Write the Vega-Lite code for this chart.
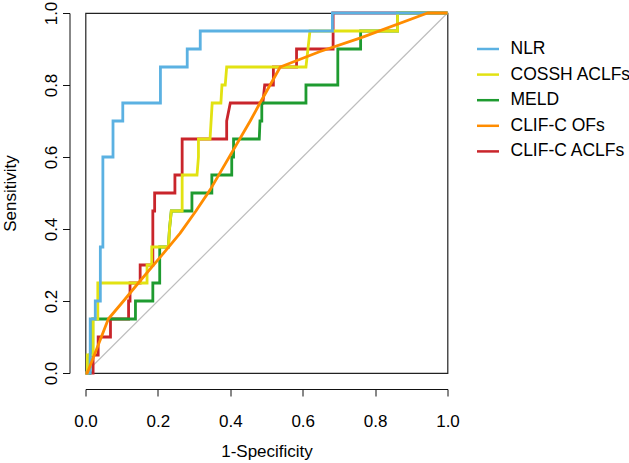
{
  "$schema": "https://vega.github.io/schema/vega-lite/v6.json",
  "width": 362,
  "height": 360,
  "autosize": {"type": "none"},
  "padding": {"left": 85.5, "top": 13, "right": 181.5, "bottom": 90},
  "background": "white",
  "config": {
    "view": {"stroke": "#222", "strokeWidth": 1.2},
    "font": "Liberation Sans",
    "axis": {
      "grid": false, "domainColor": "#111", "tickColor": "#111", "domainWidth": 1, "tickWidth": 1,
      "tickSize": 7, "labelFontSize": 17, "titleFontSize": 17, "labelColor": "#000", "titleColor": "#000",
      "titleFontWeight": "normal", "labelFont": "Liberation Sans", "titleFont": "Liberation Sans",
      "labelFlush": false, "labelOverlap": false, "offset": 16
    },
    "legend": {
      "orient": "none", "legendX": 390, "legendY": 23.5, "symbolType": "stroke", "symbolSize": 484,
      "symbolStrokeWidth": 2.5, "labelFontSize": 17.5, "labelFont": "Liberation Sans", "labelColor": "#000",
      "rowPadding": 4.6, "labelOffset": 10, "padding": 0, "title": null
    }
  },
  "datasets": {
    "roc": [
      {"m":"NLR","i":0,"x":0,"y":0},{"m":"NLR","i":1,"x":0.013,"y":0},{"m":"NLR","i":2,"x":0.013,"y":0.15},
      {"m":"NLR","i":3,"x":0.027,"y":0.15},{"m":"NLR","i":4,"x":0.027,"y":0.2},{"m":"NLR","i":5,"x":0.041,"y":0.2},
      {"m":"NLR","i":6,"x":0.041,"y":0.35},{"m":"NLR","i":7,"x":0.048,"y":0.35},{"m":"NLR","i":8,"x":0.048,"y":0.6},
      {"m":"NLR","i":9,"x":0.076,"y":0.6},{"m":"NLR","i":10,"x":0.076,"y":0.7},{"m":"NLR","i":11,"x":0.103,"y":0.7},
      {"m":"NLR","i":12,"x":0.103,"y":0.75},{"m":"NLR","i":13,"x":0.207,"y":0.75},{"m":"NLR","i":14,"x":0.207,"y":0.85},
      {"m":"NLR","i":15,"x":0.281,"y":0.85},{"m":"NLR","i":16,"x":0.281,"y":0.9},{"m":"NLR","i":17,"x":0.317,"y":0.9},
      {"m":"NLR","i":18,"x":0.317,"y":0.95},{"m":"NLR","i":19,"x":0.682,"y":0.95},{"m":"NLR","i":20,"x":0.682,"y":1},
      {"m":"NLR","i":21,"x":1,"y":1},

      {"m":"COSSH ACLFs","i":0,"x":0,"y":0},{"m":"COSSH ACLFs","i":1,"x":0.005,"y":0},{"m":"COSSH ACLFs","i":2,"x":0.005,"y":0.05},
      {"m":"COSSH ACLFs","i":3,"x":0.021,"y":0.05},{"m":"COSSH ACLFs","i":4,"x":0.021,"y":0.15},{"m":"COSSH ACLFs","i":5,"x":0.034,"y":0.15},
      {"m":"COSSH ACLFs","i":6,"x":0.034,"y":0.25},{"m":"COSSH ACLFs","i":7,"x":0.17,"y":0.25},{"m":"COSSH ACLFs","i":8,"x":0.17,"y":0.3},
      {"m":"COSSH ACLFs","i":9,"x":0.183,"y":0.3},{"m":"COSSH ACLFs","i":10,"x":0.183,"y":0.35},{"m":"COSSH ACLFs","i":11,"x":0.229,"y":0.35},
      {"m":"COSSH ACLFs","i":12,"x":0.232,"y":0.4},{"m":"COSSH ACLFs","i":13,"x":0.237,"y":0.45},{"m":"COSSH ACLFs","i":14,"x":0.267,"y":0.45},
      {"m":"COSSH ACLFs","i":15,"x":0.267,"y":0.55},{"m":"COSSH ACLFs","i":16,"x":0.308,"y":0.55},{"m":"COSSH ACLFs","i":17,"x":0.312,"y":0.6},
      {"m":"COSSH ACLFs","i":18,"x":0.312,"y":0.65},{"m":"COSSH ACLFs","i":19,"x":0.344,"y":0.65},{"m":"COSSH ACLFs","i":20,"x":0.35,"y":0.75},
      {"m":"COSSH ACLFs","i":21,"x":0.374,"y":0.75},{"m":"COSSH ACLFs","i":22,"x":0.377,"y":0.8},{"m":"COSSH ACLFs","i":23,"x":0.386,"y":0.8},
      {"m":"COSSH ACLFs","i":24,"x":0.39,"y":0.85},{"m":"COSSH ACLFs","i":25,"x":0.609,"y":0.85},{"m":"COSSH ACLFs","i":26,"x":0.62,"y":0.95},
      {"m":"COSSH ACLFs","i":27,"x":0.862,"y":0.95},{"m":"COSSH ACLFs","i":28,"x":0.862,"y":1},{"m":"COSSH ACLFs","i":29,"x":1,"y":1},

      {"m":"MELD","i":0,"x":0,"y":0},{"m":"MELD","i":1,"x":0.012,"y":0},{"m":"MELD","i":2,"x":0.012,"y":0.05},
      {"m":"MELD","i":3,"x":0.02,"y":0.05},{"m":"MELD","i":4,"x":0.02,"y":0.15},{"m":"MELD","i":5,"x":0.138,"y":0.15},
      {"m":"MELD","i":6,"x":0.138,"y":0.2},{"m":"MELD","i":7,"x":0.186,"y":0.2},{"m":"MELD","i":8,"x":0.186,"y":0.25},
      {"m":"MELD","i":9,"x":0.205,"y":0.25},{"m":"MELD","i":10,"x":0.205,"y":0.35},{"m":"MELD","i":11,"x":0.229,"y":0.35},
      {"m":"MELD","i":12,"x":0.232,"y":0.4},{"m":"MELD","i":13,"x":0.237,"y":0.45},{"m":"MELD","i":14,"x":0.294,"y":0.45},
      {"m":"MELD","i":15,"x":0.294,"y":0.5},{"m":"MELD","i":16,"x":0.349,"y":0.5},{"m":"MELD","i":17,"x":0.349,"y":0.55},
      {"m":"MELD","i":18,"x":0.404,"y":0.55},{"m":"MELD","i":19,"x":0.404,"y":0.6},{"m":"MELD","i":20,"x":0.409,"y":0.6},
      {"m":"MELD","i":21,"x":0.409,"y":0.65},{"m":"MELD","i":22,"x":0.48,"y":0.65},{"m":"MELD","i":23,"x":0.482,"y":0.7},
      {"m":"MELD","i":24,"x":0.487,"y":0.7},{"m":"MELD","i":25,"x":0.487,"y":0.75},{"m":"MELD","i":26,"x":0.609,"y":0.75},
      {"m":"MELD","i":27,"x":0.609,"y":0.8},{"m":"MELD","i":28,"x":0.697,"y":0.8},{"m":"MELD","i":29,"x":0.697,"y":0.9},
      {"m":"MELD","i":30,"x":0.76,"y":0.9},{"m":"MELD","i":31,"x":0.76,"y":0.95},{"m":"MELD","i":32,"x":0.862,"y":0.95},
      {"m":"MELD","i":33,"x":0.862,"y":1},{"m":"MELD","i":34,"x":1,"y":1},

      {"m":"CLIF-C ACLFs","i":0,"x":0,"y":0},{"m":"CLIF-C ACLFs","i":1,"x":0.021,"y":0},{"m":"CLIF-C ACLFs","i":2,"x":0.021,"y":0.05},
      {"m":"CLIF-C ACLFs","i":3,"x":0.035,"y":0.05},{"m":"CLIF-C ACLFs","i":4,"x":0.035,"y":0.1},{"m":"CLIF-C ACLFs","i":5,"x":0.069,"y":0.1},
      {"m":"CLIF-C ACLFs","i":6,"x":0.069,"y":0.15},{"m":"CLIF-C ACLFs","i":7,"x":0.119,"y":0.15},{"m":"CLIF-C ACLFs","i":8,"x":0.119,"y":0.2},
      {"m":"CLIF-C ACLFs","i":9,"x":0.123,"y":0.2},{"m":"CLIF-C ACLFs","i":10,"x":0.123,"y":0.25},{"m":"CLIF-C ACLFs","i":11,"x":0.151,"y":0.25},
      {"m":"CLIF-C ACLFs","i":12,"x":0.151,"y":0.3},{"m":"CLIF-C ACLFs","i":13,"x":0.186,"y":0.3},{"m":"CLIF-C ACLFs","i":14,"x":0.186,"y":0.45},
      {"m":"CLIF-C ACLFs","i":15,"x":0.191,"y":0.45},{"m":"CLIF-C ACLFs","i":16,"x":0.191,"y":0.5},{"m":"CLIF-C ACLFs","i":17,"x":0.247,"y":0.5},
      {"m":"CLIF-C ACLFs","i":18,"x":0.247,"y":0.55},{"m":"CLIF-C ACLFs","i":19,"x":0.267,"y":0.55},{"m":"CLIF-C ACLFs","i":20,"x":0.267,"y":0.65},
      {"m":"CLIF-C ACLFs","i":21,"x":0.39,"y":0.65},{"m":"CLIF-C ACLFs","i":22,"x":0.39,"y":0.7},{"m":"CLIF-C ACLFs","i":23,"x":0.4,"y":0.75},
      {"m":"CLIF-C ACLFs","i":24,"x":0.49,"y":0.75},{"m":"CLIF-C ACLFs","i":25,"x":0.495,"y":0.8},{"m":"CLIF-C ACLFs","i":26,"x":0.519,"y":0.8},
      {"m":"CLIF-C ACLFs","i":27,"x":0.519,"y":0.85},{"m":"CLIF-C ACLFs","i":28,"x":0.583,"y":0.85},{"m":"CLIF-C ACLFs","i":29,"x":0.583,"y":0.9},
      {"m":"CLIF-C ACLFs","i":30,"x":0.684,"y":0.9},{"m":"CLIF-C ACLFs","i":31,"x":0.684,"y":1},{"m":"CLIF-C ACLFs","i":32,"x":1,"y":1},

      {"m":"CLIF-C OFs","i":0,"x":0,"y":0},{"m":"CLIF-C OFs","i":1,"x":0.005,"y":0},{"m":"CLIF-C OFs","i":2,"x":0.04,"y":0.09},
      {"m":"CLIF-C OFs","i":3,"x":0.063,"y":0.15},{"m":"CLIF-C OFs","i":4,"x":0.105,"y":0.2},{"m":"CLIF-C OFs","i":5,"x":0.146,"y":0.25},
      {"m":"CLIF-C OFs","i":6,"x":0.2,"y":0.314},{"m":"CLIF-C OFs","i":7,"x":0.261,"y":0.388},{"m":"CLIF-C OFs","i":8,"x":0.305,"y":0.45},
      {"m":"CLIF-C OFs","i":9,"x":0.345,"y":0.51},{"m":"CLIF-C OFs","i":10,"x":0.455,"y":0.7},{"m":"CLIF-C OFs","i":11,"x":0.482,"y":0.75},
      {"m":"CLIF-C OFs","i":12,"x":0.538,"y":0.85},{"m":"CLIF-C OFs","i":13,"x":0.648,"y":0.893},{"m":"CLIF-C OFs","i":14,"x":0.76,"y":0.931},
      {"m":"CLIF-C OFs","i":15,"x":0.945,"y":1},{"m":"CLIF-C OFs","i":16,"x":1,"y":1}
    ],
    "diag": [{"x":0,"y":0},{"x":1,"y":1}]
  },
  "encoding": {
    "x": {"field": "x", "type": "quantitative", "scale": {"domain": [0, 1], "nice": false, "zero": false},
          "axis": {"title": "1-Specificity", "values": [0, 0.2, 0.4, 0.6, 0.8, 1], "format": ".1f", "labelPadding": 17, "titlePadding": 14}},
    "y": {"field": "y", "type": "quantitative", "scale": {"domain": [0, 1], "nice": false, "zero": false},
          "axis": {"title": "Sensitivity", "values": [0, 0.2, 0.4, 0.6, 0.8, 1], "format": ".1f", "labelAngle": -90,
                   "labelAlign": "center", "labelBaseline": "bottom", "labelPadding": 2, "titlePadding": 23}}
  },
  "layer": [
    {"data": {"name": "diag"}, "mark": {"type": "line", "color": "#BEBEBE", "strokeWidth": 1.2}},
    {"data": {"name": "roc"}, "transform": [{"filter": "datum.m === 'CLIF-C ACLFs'"}],
     "mark": {"type": "line", "strokeWidth": 2.8, "strokeJoin": "miter"},
     "encoding": {"order": {"field": "i", "type": "quantitative"},
       "color": {"field": "m", "type": "nominal", "scale": {"domain": ["NLR","COSSH ACLFs","MELD","CLIF-C OFs","CLIF-C ACLFs"], "range": ["#5BB1E2","#E2E212","#1E9B30","#FF8C00","#C9252B"]}, "legend": {}}}},
    {"data": {"name": "roc"}, "transform": [{"filter": "datum.m === 'MELD'"}],
     "mark": {"type": "line", "strokeWidth": 2.8, "strokeJoin": "miter"},
     "encoding": {"order": {"field": "i", "type": "quantitative"}, "color": {"field": "m", "type": "nominal"}}},
    {"data": {"name": "roc"}, "transform": [{"filter": "datum.m === 'COSSH ACLFs'"}],
     "mark": {"type": "line", "strokeWidth": 2.8, "strokeJoin": "miter"},
     "encoding": {"order": {"field": "i", "type": "quantitative"}, "color": {"field": "m", "type": "nominal"}}},
    {"data": {"name": "roc"}, "transform": [{"filter": "datum.m === 'NLR'"}],
     "mark": {"type": "line", "strokeWidth": 2.8, "strokeJoin": "miter"},
     "encoding": {"order": {"field": "i", "type": "quantitative"}, "color": {"field": "m", "type": "nominal"}}},
    {"data": {"name": "roc"}, "transform": [{"filter": "datum.m === 'CLIF-C OFs'"}],
     "mark": {"type": "line", "strokeWidth": 2.8, "strokeJoin": "round"},
     "encoding": {"order": {"field": "i", "type": "quantitative"}, "color": {"field": "m", "type": "nominal"}}}
  ]
}
